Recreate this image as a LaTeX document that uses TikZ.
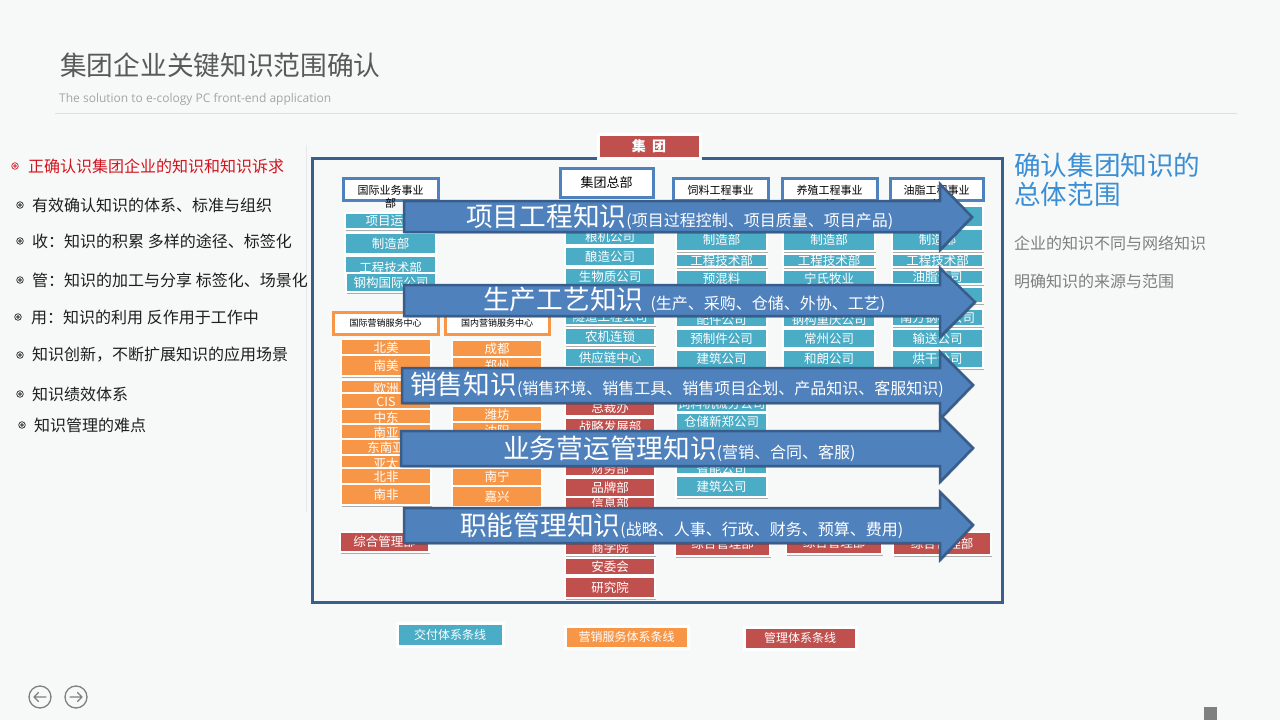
\documentclass[tikz,border=0pt]{standalone}
\usepackage{fontspec}
\setmainfont{Noto Sans CJK SC}
\newfontfamily\latf{Open Sans}
\usetikzlibrary{shadows}
\definecolor{bgc}{RGB}{247,248,248}
\definecolor{teal1}{RGB}{75,172,198}
\definecolor{orng}{RGB}{247,150,70}
\definecolor{redb}{RGB}{192,80,77}
\definecolor{arrf}{RGB}{79,129,189}
\definecolor{arrd}{RGB}{56,93,138}
\definecolor{hdrblue}{RGB}{79,129,189}
\definecolor{framec}{RGB}{58,95,143}
\definecolor{titlec}{RGB}{89,89,89}
\definecolor{subc}{RGB}{165,165,165}
\definecolor{redt}{RGB}{210,20,30}
\definecolor{bluet}{RGB}{59,143,212}
\definecolor{grayt}{RGB}{127,127,127}
\definecolor{navc}{RGB}{128,128,128}
\definecolor{textc}{RGB}{30,30,30}
\newcommand\bigf{\fontsize{26.7}{30}\selectfont}
\newcommand\smf{\fontsize{16}{18}\selectfont}
\newcommand\itm[7]{\path[itembox,fill=#2] (#3,#4) rectangle (#5,#6);
  \node[itemtext] (#1) at ({(#3+#5)/2},{(#4+#6)/2}) {#7};}
\newcommand\bul[3]{\draw[#3,line width=0.7pt] (#1,#2) circle[radius=3.3pt];
  \draw[#3,line width=0.7pt] (#1,#2) circle[radius=1.3pt];}
\tikzset{
  itembox/.style={draw=white,line width=2.5pt,drop shadow={shadow xshift=0.8pt,shadow yshift=-1.5pt,opacity=0.3,fill=black}},
  itemtext/.style={text=white,font=\fontsize{12.5}{13}\selectfont,inner sep=0pt},
  hdrbox/.style={draw=hdrblue,line width=3pt,fill=white,inner sep=0pt},
  ohdrbox/.style={draw=orng,line width=3pt,fill=white,inner sep=0pt},
  hdrtext/.style={text=black,font=\fontsize{11}{13.5}\selectfont,inner sep=0pt,align=center},
  bt/.style={anchor=west,text=textc,font=\fontsize{16}{18}\selectfont,inner sep=0pt},
  karrow/.style={fill=arrf,draw=arrd,line width=2.5pt,line join=miter,drop shadow={shadow xshift=1pt,shadow yshift=-1.5pt,opacity=0.25,fill=black}},
  atext/.style={anchor=west,text=white,inner sep=0pt},
  legbox/.style={draw=white,line width=3pt,drop shadow={shadow xshift=1pt,shadow yshift=-1.5pt,opacity=0.3,fill=black}},
  navline/.style={draw=navc,line width=1.3pt,line cap=round,line join=round}
}
\begin{document}
\begin{tikzpicture}[x=1pt,y=-1pt]
\useasboundingbox (0,0) rectangle (1280,720);
\fill[bgc] (0,0) rectangle (1280,720);
% title
\node[anchor=west,text=titlec,font=\bigf,inner sep=0pt] (title) at (60,65) {集团企业关键知识范围确认};
\node[anchor=west,text=subc,font=\latf\fontsize{12}{14}\selectfont,inner sep=0pt] (sub) at (59,99) {The solution to e-cology PC front-end application};
\draw[gray!25,line width=0.8pt] (55,113) -- (1237,113);
% left list
\draw[gray!18,line width=0.8pt] (306,145) -- (306,512);
\bul{15}{166}{redt}
\node[bt,text=redt] (l1) at (28,166) {正确认识集团企业的知识和知识诉求};
\bul{20}{205}{textc}
\node[bt] (l2) at (32,205) {有效确认知识的体系、标准与组织};
\bul{20}{241}{textc}
\node[bt] (l3) at (32,241) {收：知识的积累 多样的途径、标签化};
\bul{20}{280}{textc}
\node[bt] (l4) at (32,280) {管：知识的加工与分享 标签化、场景化};
\bul{18}{317}{textc}
\node[bt] (l5) at (31,317) {用：知识的利用 反作用于工作中};
\bul{20}{355}{textc}
\node[bt] (l6) at (32,355) {知识创新，不断扩展知识的应用场景};
\bul{20}{394}{textc}
\node[bt] (l7) at (32,394) {知识绩效体系};
\bul{22}{425}{textc}
\node[bt] (l8) at (34,425) {知识管理的难点};
% frame
\draw[framec,line width=3pt] (312,158) rectangle (1002,602);
% group box
\path[legbox,fill=redb] (598,134) rectangle (700,158);
\node[text=white,font=\fontsize{14}{16}\selectfont\bfseries,inner sep=0pt] (grp) at (649,146) {集\ \ 团};
% column A
\itm{a1}{teal1}{345}{213}{436}{229}{项目运营}
\itm{a2}{teal1}{345}{233}{436}{254}{制造部}
\itm{a3}{teal1}{345}{256}{436}{279}{工程技术部}
\itm{a4}{teal1}{346}{273}{436}{292}{钢构国际公司}
% column B
\itm{b1}{orng}{341}{339}{431}{357}{北美}
\itm{b2}{orng}{341}{355}{431}{376}{南美}
\itm{b3}{orng}{341}{380}{431}{398}{欧洲}
\itm{b4}{orng}{341}{393}{431}{411}{CIS}
\itm{b5}{orng}{341}{409}{431}{427}{中东}
\itm{b6}{orng}{341}{424}{431}{442}{南亚}
\itm{b7}{orng}{341}{439}{431}{457}{东南亚}
\itm{b8}{orng}{341}{455}{431}{473}{亚太}
\itm{b9}{orng}{341}{468}{431}{486}{北非}
\itm{b10}{orng}{341}{484}{431}{505}{南非}
\itm{b11}{redb}{340}{532}{429}{552}{综合管理部}
% column C
\itm{c1}{orng}{452}{340}{542}{358}{成都}
\itm{c2}{orng}{452}{357}{542}{375}{郑州}
\itm{c3}{orng}{452}{406}{542}{424}{潍坊}
\itm{c4}{orng}{452}{422}{542}{440}{沈阳}
\itm{c5}{orng}{452}{468}{542}{486}{南宁}
\itm{c6}{orng}{452}{486}{542}{507}{嘉兴}
% column D
\itm{d1}{teal1}{565}{229}{655}{245}{粮机公司}
\itm{d2}{teal1}{565}{247}{655}{266}{酿造公司}
\itm{d3}{teal1}{565}{268}{655}{286}{生物质公司}
\itm{d4}{teal1}{565}{309}{655}{325}{隧道工程公司}
\itm{d5}{teal1}{565}{328}{655}{345}{农机连锁}
\itm{d6}{teal1}{565}{348}{655}{367}{供应链中心}
\itm{d7}{redb}{565}{399}{655}{416}{总裁办}
\itm{d8}{redb}{565}{418}{655}{436}{战略发展部}
\itm{d9}{redb}{565}{461}{655}{476}{财务部}
\itm{d10}{redb}{565}{478}{655}{497}{品牌部}
\itm{d11}{redb}{565}{497}{655}{511}{信息部}
\itm{d12}{redb}{565}{540}{655}{555}{商学院}
\itm{d13}{redb}{565}{558}{655}{575}{安委会}
\itm{d14}{redb}{565}{577}{655}{598}{研究院}
% column E
\itm{e1}{teal1}{676}{229}{767}{251}{制造部}
\itm{e2}{teal1}{676}{254}{767}{267}{工程技术部}
\itm{e3}{teal1}{676}{270}{767}{288}{预混料}
\itm{e4}{teal1}{676}{312}{767}{327}{配件公司}
\itm{e5}{teal1}{676}{329}{767}{348}{预制件公司}
\itm{e6}{teal1}{676}{350}{767}{368}{建筑公司}
\itm{e7}{teal1}{676}{396}{767}{412}{饲料机械分公司}
\itm{e8}{teal1}{676}{413}{767}{431}{仓储新郑公司}
\itm{e9}{teal1}{676}{463}{767}{474}{智能公司}
\itm{e10}{teal1}{676}{476}{767}{497}{建筑公司}
\itm{e11}{redb}{675}{532}{770}{556}{综合管理部}
% column F
\itm{f1}{teal1}{783}{229}{875}{251}{制造部}
\itm{f2}{teal1}{783}{254}{875}{267}{工程技术部}
\itm{f3}{teal1}{783}{270}{875}{288}{宁氏牧业}
\itm{f4}{teal1}{783}{312}{875}{327}{钢构重庆公司}
\itm{f5}{teal1}{783}{329}{875}{348}{常州公司}
\itm{f6}{teal1}{783}{350}{875}{368}{和朗公司}
\itm{f7}{redb}{786}{532}{882}{554}{综合管理部}
% column G
\itm{g0}{teal1}{892}{206}{983}{227}{}
\itm{g1}{teal1}{892}{229}{983}{251}{制造部}
\itm{g2}{teal1}{892}{254}{983}{267}{工程技术部}
\itm{g3}{teal1}{892}{270}{983}{284}{油脂公司}
\itm{g4}{teal1}{892}{287}{983}{303}{}
\itm{g5}{teal1}{892}{309}{983}{326}{南方钢构公司}
\itm{g6}{teal1}{892}{329}{983}{348}{输送公司}
\itm{g7}{teal1}{892}{350}{983}{368}{烘干公司}
\itm{g8}{redb}{893}{532}{991}{555}{综合管理部}
% headers
\node[hdrbox,minimum width=95pt,minimum height=22pt] (h1) at (390.5,189) {};
\node[hdrtext] (h1t) at (390.5,197) {国际业务事业\\部};
\node[hdrbox,minimum width=93pt,minimum height=29pt] (h2) at (606.5,182.5) {};
\node[hdrtext,font=\fontsize{13}{15}\selectfont] (h2t) at (606.5,182.5) {集团总部};
\node[hdrbox,minimum width=95pt,minimum height=22pt] (h3) at (720.5,189) {};
\node[hdrtext] (h3t) at (720.5,197.5) {饲料工程事业\\部};
\node[hdrbox,minimum width=95pt,minimum height=22pt] (h4) at (829.5,189) {};
\node[hdrtext] (h4t) at (829.5,197.5) {养殖工程事业\\部};
\node[hdrbox,minimum width=93pt,minimum height=22pt] (h5) at (936.5,189) {};
\node[hdrtext] (h5t) at (936.5,197.5) {油脂工程事业\\部};
\node[ohdrbox,minimum width=105pt,minimum height=22pt] (h6) at (385.5,323) {};
\node[hdrtext,font=\fontsize{9}{11}\selectfont] (h6t) at (385.5,323) {国际营销服务中心};
\node[ohdrbox,minimum width=104pt,minimum height=22pt] (h7) at (497,323) {};
\node[hdrtext,font=\fontsize{9}{11}\selectfont] (h7t) at (497,323) {国内营销服务中心};
% arrows
\path[karrow] (404,201) -- (940,201) -- (940,184) -- (972,217) -- (940,250) -- (940,232) -- (404,232) -- cycle;
\node[atext] (t1) at (466,217) {\bigf 项目工程知识\smf(项目过程控制、项目质量、项目产品)};
\path[karrow] (404,285) -- (940,285) -- (940,268) -- (975,302) -- (940,337) -- (940,316) -- (404,316) -- cycle;
\node[atext] (t2) at (483,300) {\bigf 生产工艺知识\smf\ \ (生产、采购、仓储、外协、工艺)};
\path[karrow] (402,368) -- (940,368) -- (940,352) -- (973,385) -- (940,419) -- (940,403) -- (402,403) -- cycle;
\node[atext] (t3) at (410,385) {\bigf 销售知识\smf(销售环境、销售工具、销售项目企划、产品知识、客服知识)};
\path[karrow] (401,431) -- (940,431) -- (940,415) -- (973,448) -- (940,482) -- (940,466) -- (401,466) -- cycle;
\node[atext] (t4) at (503,449) {\bigf 业务营运管理知识\smf(营销、合同、客服)};
\path[karrow] (404,508) -- (940,508) -- (940,492) -- (973,525) -- (940,560) -- (940,543) -- (404,543) -- cycle;
\node[atext] (t5) at (460,526) {\bigf 职能管理知识\smf(战略、人事、行政、财务、预算、费用)};
% right text
\node[anchor=north west,text=bluet,font=\fontsize{26.6}{28.5}\selectfont,inner sep=0pt,align=left] (r1) at (1014,153) {确认集团知识的\\总体范围};
\node[anchor=west,text=grayt,font=\fontsize{16}{18}\selectfont,inner sep=0pt] (r2) at (1014,243) {企业的知识不同与网络知识};
\node[anchor=west,text=grayt,font=\fontsize{16}{18}\selectfont,inner sep=0pt] (r3) at (1014,281) {明确知识的来源与范围};
% legends
\path[legbox,fill=teal1] (397,623) rectangle (503,646);
\node[itemtext,font=\fontsize{12}{13}\selectfont] (lg1) at (450,634.5) {交付体系条线};
\path[legbox,fill=orng] (565,626) rectangle (688,648);
\node[itemtext,font=\fontsize{12}{13}\selectfont] (lg2) at (626.5,637) {营销服务体系条线};
\path[legbox,fill=redb] (744,627) rectangle (856,649);
\node[itemtext,font=\fontsize{12}{13}\selectfont] (lg3) at (800,638) {管理体系条线};
% nav
\draw[navline] (40,697) circle[radius=11pt];
\draw[navline] (46,697) -- (34,697) (38.5,692.5) -- (34,697) -- (38.5,701.5);
\draw[navline] (76,697) circle[radius=11pt];
\draw[navline] (70,697) -- (82,697) (77.5,692.5) -- (82,697) -- (77.5,701.5);
\fill[navc] (1204,707) rectangle (1217,720);
\end{tikzpicture}
\end{document}
